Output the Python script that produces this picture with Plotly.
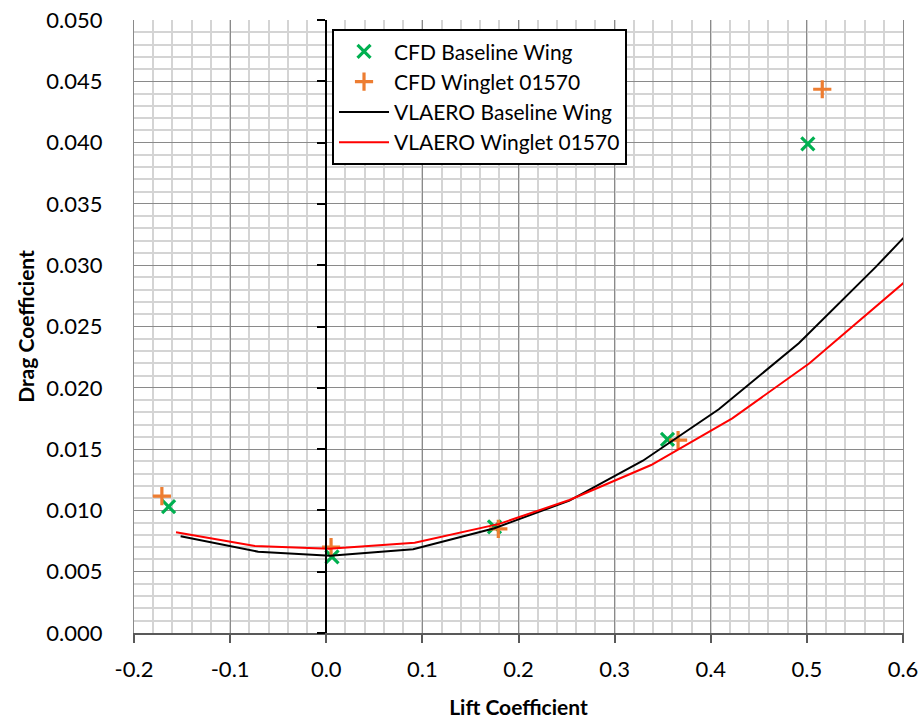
import plotly.graph_objects as go

# CFD data points
cfd_base_cl = [-0.164, 0.006, 0.175, 0.355, 0.501]
cfd_base_cd = [0.0103, 0.0062, 0.00865, 0.0158, 0.0399]
cfd_wl_cl = [-0.171, 0.005, 0.179, 0.366, 0.516]
cfd_wl_cd = [0.01117, 0.0070, 0.0085, 0.01574, 0.04435]

# VLAERO curves
vl_base_cl = [-0.1515, -0.0708, 0.004, 0.0904, 0.175, 0.253, 0.3294, 0.4084, 0.4916, 0.572, 0.645]
vl_base_cd = [0.0079, 0.00663, 0.0063, 0.00683, 0.00855, 0.0108, 0.01405, 0.01825, 0.02363, 0.02988, 0.0359]
vl_wl_cl = [-0.1563, -0.0742, 0.003, 0.092, 0.18, 0.253, 0.338, 0.4224, 0.5027, 0.58, 0.655]
vl_wl_cd = [0.00821, 0.0071, 0.00688, 0.00737, 0.0089, 0.01085, 0.0137, 0.01751, 0.022, 0.0272, 0.0322]

# Tick labels
x_tickvals = [-0.2, -0.1, 0.0, 0.1, 0.2, 0.3, 0.4, 0.5, 0.6]
x_ticktext = ["-0.2", "-0.1", "0.0", "0.1", "0.2", "0.3", "0.4", "0.5", "0.6"]

FONT = "Lato"

fig = go.Figure()
fig.add_trace(go.Scatter(x=cfd_base_cl, y=cfd_base_cd, mode="markers", name="CFD Baseline Wing",
                         marker=dict(symbol="x-thin", size=13, line=dict(width=3.2, color="#00b050"), color="#00b050")))
fig.add_trace(go.Scatter(x=cfd_wl_cl, y=cfd_wl_cd, mode="markers", name="CFD Winglet 01570",
                         marker=dict(symbol="cross-thin", size=13, line=dict(width=3.2, color="#ed7d31"), color="#ed7d31")))
fig.add_trace(go.Scatter(x=vl_base_cl, y=vl_base_cd, mode="lines", name="VLAERO Baseline Wing",
                         line=dict(color="black", width=2)))
fig.add_trace(go.Scatter(x=vl_wl_cl, y=vl_wl_cd, mode="lines", name="VLAERO Winglet 01570",
                         line=dict(color="#ff0000", width=2)))
# helper trace for the y-axis drawn at x = 0
fig.add_trace(go.Scatter(x=[None], y=[None], yaxis="y2", showlegend=False, hoverinfo="skip"))

fig.update_layout(
    width=924, height=724,
    margin=dict(l=134, r=21, t=20, b=91, autoexpand=False),
    paper_bgcolor="white", plot_bgcolor="white",
    font=dict(family=FONT, color="black", size=22),
    xaxis=dict(
        range=[-0.2, 0.6], tickvals=x_tickvals, ticktext=x_ticktext,
        showgrid=True, gridcolor="#8a8a8a", gridwidth=1.2,
        minor=dict(dtick=0.02, tick0=0, showgrid=True, gridcolor="#d4d4d4", gridwidth=1.6),
        zeroline=False, automargin=False,
        showline=True, linecolor="#595959", linewidth=2,
        ticks="outside", ticklen=8, tickcolor="#595959", tickwidth=1.5,
        ticklabelstandoff=8,
        tickfont=dict(size=22),
        title=dict(text="<b>Lift Coefficient</b>", font=dict(size=21), standoff=19),
    ),
    yaxis=dict(
        range=[0, 0.05], dtick=0.005, tick0=0, tickformat=".3f",
        showgrid=True, gridcolor="#8a8a8a", gridwidth=1.2,
        minor=dict(dtick=0.001, tick0=0, showgrid=True, gridcolor="#d4d4d4", gridwidth=1.6),
        zeroline=False, automargin=False,
        showline=True, linecolor="#8a8a8a", linewidth=1.2, mirror=True,
        ticks="", ticklabelstandoff=26,
        tickfont=dict(size=22),
        title=dict(text="<b>Drag Coefficient</b>", font=dict(size=21), standoff=5),
    ),
    yaxis2=dict(
        overlaying="y", anchor="free", position=0.25, side="left",
        range=[0, 0.05], dtick=0.005, tick0=0, automargin=False,
        showgrid=False, zeroline=False, showticklabels=False,
        showline=True, linecolor="black", linewidth=2,
        ticks="outside", ticklen=8, tickcolor="black", tickwidth=1.5,
    ),
    legend=dict(
        x=0.2575, y=0.985, xanchor="left", yanchor="top",
        bgcolor="white", bordercolor="black", borderwidth=2,
        font=dict(size=21, family=FONT),
        itemwidth=50,
    ),
    showlegend=True,
)

fig.write_html("out.html")
